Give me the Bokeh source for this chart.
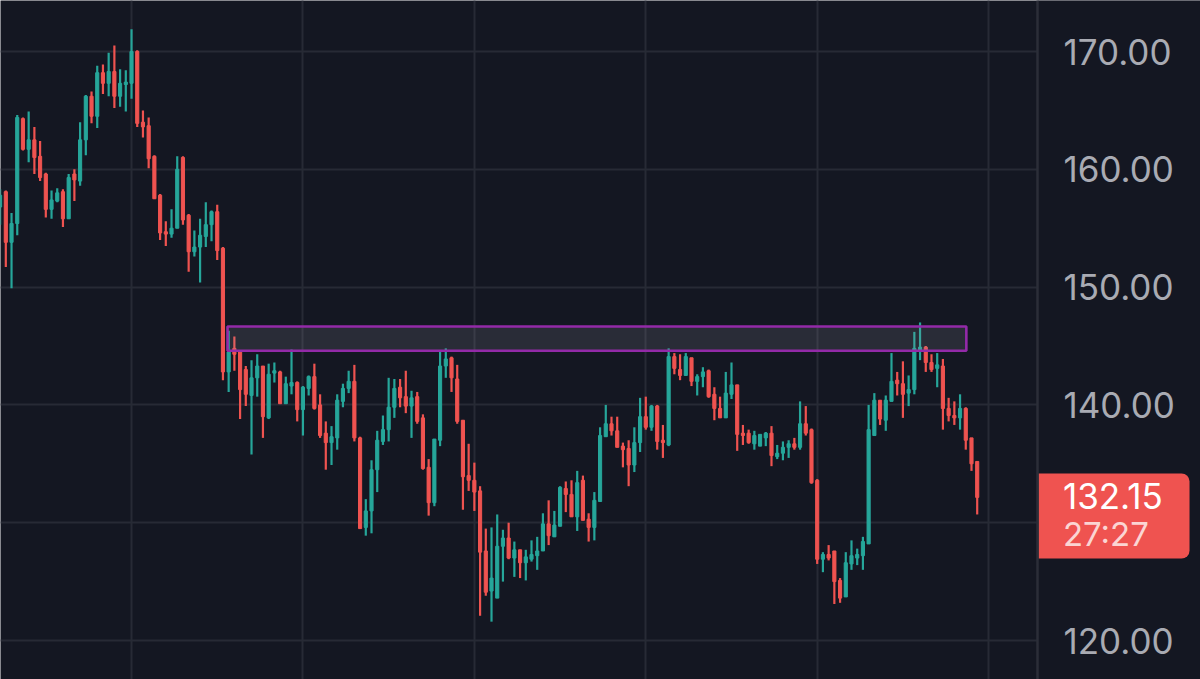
from bokeh.plotting import figure
from bokeh.core.properties import value
from bokeh.models import Range1d, FixedTicker, NumeralTickFormatter, LinearAxis
from bokeh.embed import file_html
from bokeh.resources import INLINE

opens = [156.8,158.1,153.8,155.4,164.3,161.7,162.5,161.1,159.6,156.6,
157.3,158.1,155.8,159.6,159,162.5,166.2,164.5,168.2,167.3,
168.3,166.2,167.2,167.3,170,164,163.7,161.1,157.8,154.7,
154.5,155,161,156.1,153,153.4,154.3,155.3,156.4,153.3,
142.8,144.8,144.5,143,140.8,142.3,143.3,138.9,142.7,142.8,
140.1,141.6,141.9,139.6,141.4,142.4,140,137.6,136.8,137.2,
140.3,141.4,142,137.2,129.6,131,134.5,136.9,137.9,139.8,
141.5,140.7,139.9,140.7,138.9,134.7,131.7,137,143.3,144,
142.2,138.7,134,133.6,132.7,127.6,124.2,123.6,128,128.7,
127,127.7,126.6,126.9,127.2,127.6,129.9,128.8,129.7,132.9,
132.4,130.5,133.6,130.3,129.6,131.8,137.3,138.4,137.8,136.5,
136.3,134.9,136.8,139,138.1,139.9,137,136.6,144.1,143,
142.5,144,142,142.4,142.9,140.9,139.7,138.9,140.9,141.7,
137.6,137.6,136.7,136.5,137.2,137.6,135.6,135.9,136.4,136.7,
136.4,138.4,137.9,133.6,126.9,127.3,127.6,125.1,123.7,126.5,
127,127.2,128.2,137.4,140.4,138.7,140.3,142.1,141.8,141,
141.3,144.6,144.9,143.6,143.1,143.3,139.7,139.1,138.9,139.7,
137.2,135.2]

closes = [157.8,153.8,155.4,164.4,161.7,162.5,161,159.3,156.6,157.4,
158,155.8,159.3,159.1,162.5,166.2,164.5,168.2,167.3,168.3,
166.2,167.3,167.4,170,163.9,163.6,160.9,157.5,154.6,154.5,
155,160,155.7,153,153.4,154.4,155.3,156.4,153.1,142.8,
144.5,144.3,141.3,140.9,142.3,143.3,139,142.6,142.9,140.1,
141.8,141.9,139.6,141.5,142.4,139.7,137.4,136.8,137.3,140.4,
141.4,142,137.2,129.5,131,134.5,137,137.9,139.8,141.4,
140.6,139.9,140.6,138.6,134.6,131.7,137.1,143.3,143.9,142.3,
138.6,133.9,133.6,132.6,127.5,124.1,125.3,128,128.7,127,
127.7,126.6,127.1,127.3,127.6,129.9,128.9,129.8,133,132.4,
130.5,133.4,130.2,129.6,131.9,137.4,138.4,137.8,136.4,136.2,
134.9,136.8,139,138.1,139.9,136.9,136.8,144.1,143.1,142.5,
144.1,142,142.4,142.8,140.7,139.7,138.9,141,141.7,137.5,
137.4,136.8,137.4,137.5,137.6,135.7,135.9,136.4,136.7,136.4,
138.4,137.6,133.4,126.9,127.3,127,125,123.6,126.6,127.2,
127.3,128.4,137.9,140.4,138.8,140.4,142,141.8,140.9,141.3,
144.8,144.9,143.6,143,143.4,139.7,139.1,138.9,139.7,137,
135,132.15]

highs = [158.3,158.2,156.3,164.6,164.4,164.9,163.6,162.4,159.7,158.2,
158.4,158.3,159.6,160,164,166.3,166.6,168.8,168.9,169.9,
170.5,168.5,168.4,171.9,170.1,165,164.4,161.2,157.9,155.6,
156.6,161.1,161.1,156.2,154.8,155.8,157.2,156.5,157,153.4,
146.3,145.8,144.5,143.3,143.8,144.3,143.3,143.5,143.6,142.9,
142.4,144.7,142,141.6,142.5,143.5,140.9,138.6,138.2,140.9,
141.8,142.9,143.4,137.3,132,135.3,137.8,139.1,142.3,142.2,
142.2,142.9,141.2,141.1,139.2,135.4,137.1,144.5,144.8,144.1,
143.4,138.7,136.7,135.1,133.1,129.5,129.6,130.7,129.4,130,
128.4,127.7,127.7,128.5,128.8,130.8,131.9,131,133.1,133.5,
133.6,134.4,134,130.8,132.6,138.1,140,139,139,136.8,
137,138.1,140.6,140.7,140,140,138.3,144.8,144.4,144.3,
144.4,144,142.6,143.2,143,141.5,140.7,142.8,143.6,141.7,
138.3,137.9,137.8,137.5,137.7,138.2,136.6,136.9,137,137.2,
140.3,139.9,138,133.7,127.5,128.1,127.6,125.3,127.5,128.5,
127.8,128.8,140,141,140.4,140.8,144.4,142.8,143.7,142.5,
146.2,147,145,144.3,144.4,143.9,140.6,140.3,140.9,139.8,
137.2,135.2]

lows = [155.3,151.7,149.9,154.4,161.6,160.6,159.6,159,155.9,155.8,
157.2,155.1,155.8,157.3,158.6,161.2,163.9,163.5,166.4,166.2,
165.2,165.3,164.9,166,163.6,162.7,160.1,157.5,154,153.5,
154.2,155,155.3,151.3,152.6,150.4,153.4,153.9,152.3,142.1,
141.1,142.9,138.8,139.9,135.8,140.7,137.2,138.8,141.9,140.1,
140.1,140.9,138.6,137.4,140.8,139.6,137.2,134.5,134.9,136.2,
139.8,141,136.9,129.5,128.9,129.1,132.6,136.6,136.9,138.9,
139.8,139.3,137.2,138.4,134.5,130.6,131.4,136.5,142.3,141.1,
138.4,131.1,132.7,131,122.1,123.8,121.6,123.6,125,126.9,
125.4,125.3,125.1,126.7,126,127.6,128.1,128.8,129.7,130.9,
130.5,129.3,130.2,128.4,128.5,131.8,137.3,137.4,136.4,134.7,
133.1,134.3,136,137.9,137.8,136.2,135.5,136.5,142.6,142.1,
142.5,141.6,140.8,141.5,140.6,138.7,138.9,138.9,140.5,136.1,
136.6,136.7,136.2,136.5,136.5,134.8,135.4,135.3,135.5,136.2,
136.2,137.4,133.3,126.5,125.8,126.8,123.1,123.2,123.7,126,
126.4,126,128.2,137.4,138.3,137.8,140.3,140.8,138.9,139.9,
140.9,143.8,142.8,142.8,141.5,137.9,138.6,138.3,137.9,136.2,
134.4,130.7]

grid_ticks = [120, 130, 140, 150, 160, 170]
axis_ticks = [120, 140, 150, 160, 170]
time_ticks = [23, 53, 83, 113, 143, 173]
zone_top = [146.65]
zone_bottom = [144.6]
zone_start = [39.8]
zone_end = [169.1]
tag_top = [134.18]
tag_bottom = [126.96]
tag_left = [181.73]
tag_right = [208.16]
tag_text_x = [186.0]
last_price_text = ["132.15"]
countdown_text = ["27:27"]

X_START, X_AXIS, X_END = 0.07, 181.55, 210.08
Y_START, Y_END = 116.69, 174.33

BG = "#141722"
GRID = "#272a35"
UP = "#26a69a"
DOWN = "#ef5350"
TEXT = "#a9abb3"

idx = list(range(len(opens)))
p = figure(width=1200, height=679, frame_width=1200, frame_height=679,
           output_backend="svg", toolbar_location=None,
           x_range=Range1d(X_START, X_END), y_range=Range1d(Y_START, Y_END),
           x_axis_location=None, y_axis_location=None, min_border=0,
           background_fill_color=BG, border_fill_color=BG, outline_line_color=None)

p.xgrid.ticker = FixedTicker(ticks=time_ticks)
p.ygrid.ticker = FixedTicker(ticks=grid_ticks)
p.grid.grid_line_color = GRID
p.grid.grid_line_width = 2

# Price-scale panel hides the grid to the right of the axis
p.quad(left=[X_AXIS], right=[X_END], top=[Y_END], bottom=[Y_START],
       fill_color=BG, line_color=None)

ax = LinearAxis(fixed_location=X_AXIS,
                ticker=FixedTicker(ticks=axis_ticks),
                formatter=NumeralTickFormatter(format="0.00"),
                axis_line_color="#2b2e38", axis_line_width=2.5,
                major_tick_line_color=None, minor_tick_line_color=None,
                major_label_standoff=20, major_label_text_font="Inter",
                major_label_text_font_size="35px", major_label_text_color=TEXT)
p.add_layout(ax, "right")

colors = [UP if c >= o else DOWN for o, c in zip(opens, closes)]
p.segment(idx, lows, idx, highs, color=colors, line_width=2.2)
p.vbar(idx, 0.55, opens, closes, fill_color=colors, line_color=colors,
       line_width=1, line_join="round")

p.quad(left=zone_start, right=zone_end, top=zone_top, bottom=zone_bottom,
       fill_color="#9a9ca8", fill_alpha=0.16, line_color="#932aa8", line_width=2.6)

p.quad(left=tag_left, right=tag_right, top=tag_top, bottom=tag_bottom,
       fill_color=DOWN, line_color=None, border_radius=(0, 8, 8, 0))
p.text(tag_text_x, closes[-1:], text=last_price_text, text_color="#ffffff",
       text_font=value("Inter"), text_font_size=value("35px"), text_align="left",
       text_baseline="middle", y_offset=-1)
p.text(tag_text_x, closes[-1:], text=countdown_text, text_color="#fbd5d3",
       text_font=value("Inter"), text_font_size=value("33px"), text_align="left",
       text_baseline="middle", y_offset=37)

open("out.html", "w").write(file_html(p, INLINE))
